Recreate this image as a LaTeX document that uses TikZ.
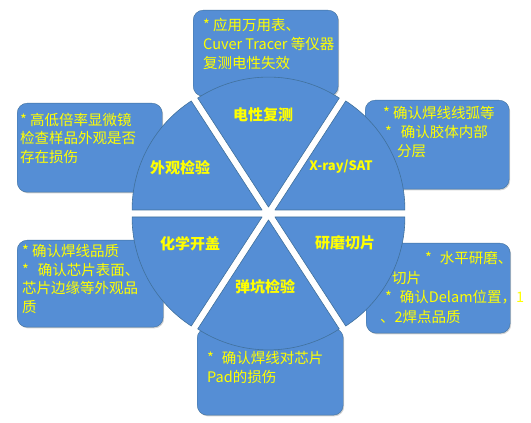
\documentclass[tikz,border=0pt]{standalone}
\usepackage{fontspec}
\newfontfamily\cjk{Noto Sans CJK SC}
\usetikzlibrary{calc, shadows}
\definecolor{PieBlue}{HTML}{558ED5}
\definecolor{EdgeBlue}{HTML}{41719C}
\definecolor{LabelYellow}{HTML}{FFFF00}
\tikzset{
  infobox/.style={draw=EdgeBlue, thin, rounded corners=10pt, fill=PieBlue, anchor=north west, inner sep=0pt, drop shadow={shadow xshift=1pt, shadow yshift=-1.2pt, opacity=0.35, fill=black!50}},
  infotext/.style={text=LabelYellow, align=left, anchor=north west, inner sep=0pt, font=\cjk\fontsize{14.5}{19}\selectfont},
  sectorlabel/.style={text=LabelYellow, inner sep=0pt, font=\cjk\bfseries\fontsize{15}{18}\selectfont},
  sectorfill/.style={fill=PieBlue, draw=EdgeBlue, line width=0.6pt, line join=round}
}

\begin{document}
\begin{tikzpicture}[x=1pt, y=1pt]
\useasboundingbox (0,0) rectangle (531,423);
\coordinate (hub) at (268.5,209.5);
% 说明框
\node[infobox, minimum width=145pt, minimum height=86pt] (boxtop) at (193,413) {};
\node[infobox, minimum width=144pt, minimum height=89pt] (boxur) at (365,323) {};
\node[infobox, minimum width=145pt, minimum height=89pt] (boxul) at (17,320) {};
\node[infobox, minimum width=146pt, minimum height=87pt] (boxll) at (17,183) {};
\node[infobox, minimum width=144pt, minimum height=90pt] (boxlr) at (366,180) {};
\node[infobox, minimum width=146pt, minimum height=87pt] (boxbot) at (197,95) {};
% 六个扇形
\foreach \a/\b/\s in {0/57/7.33, 57/123/6.43, 123/180/7.33, 180/237/7.33, 237/303/6.43, 303/360/7.33}
  \filldraw[sectorfill] ($(hub)+({(\a+\b)/2}:\s)$) -- ++(\a:130) arc[start angle=\a, end angle=\b, radius=130] -- cycle;
% 扇形标题
\node[sectorlabel] (lbltop) at (263,308) {电性复测};
\node[sectorlabel, font=\cjk\bfseries\fontsize{13}{16}\selectfont] (lblur) at (341,256) {X-ray/SAT};
\node[sectorlabel] (lblul) at (180,255) {外观检验};
\node[sectorlabel] (lblll) at (190,179) {化学开盖};
\node[sectorlabel] (lbllr) at (345,180) {研磨切片};
\node[sectorlabel] (lblbot) at (265,136) {弹坑检验};
% 框内说明
\node[infotext] (txttop) at (203,405) {* 应用万用表、\\Cuver Tracer 等仪器\\复测电性失效};
\node[infotext] (txtur) at (383,317) {* 确认焊线线弧等\\\hspace{2pt}*\hspace{9pt}确认胶体内部\\\hspace{14pt}分层};
\node[infotext, font=\cjk\fontsize{14.5}{18.5}\selectfont] (txtul) at (20,310) {* 高低倍率显微镜\\检查样品外观是否\\存在损伤};
\node[infotext, font=\cjk\fontsize{14.5}{18.7}\selectfont] (txtll) at (22,179) {* 确认焊线品质\\*\hspace{9pt}确认芯片表面、\\芯片边缘等外观品\\质};
\node[infotext, font=\cjk\fontsize{14.5}{19.7}\selectfont] (txtlr) at (380,172) {\hspace{45pt}*\hspace{8pt}水平研磨、\\\hspace{12pt}切片\\\hspace{5pt}*\hspace{8pt}确认Delam位置，1\\、2焊点品质};
\node[infotext] (txtbot) at (207,72) {*\hspace{8pt}确认焊线对芯片\\Pad的损伤};
\end{tikzpicture}
\end{document}
